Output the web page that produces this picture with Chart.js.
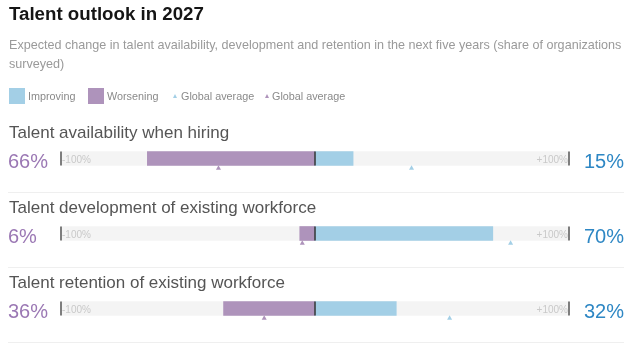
<!DOCTYPE html>
<html>
<head>
<meta charset="utf-8">
<script src="https://cdn.jsdelivr.net/npm/chart.js@4/dist/chart.umd.min.js"></script>
<style>
  html, body { margin: 0; padding: 0; background: #fff; }
  body { width: 640px; height: 350px; position: relative; overflow: hidden; font-family: "Liberation Sans", Arial, sans-serif; }
  #chart { position: absolute; left: 0; top: 0; }
  .abs { position: absolute; white-space: nowrap; }
  #title { left: 9px; top: 4px; font-size: 18.7px; line-height: 20px; font-weight: bold; color: #151515; }
  #subtitle { left: 9px; top: 36px; width: 628px; font-size: 12.6px; line-height: 19px; color: #9a9a9a; white-space: normal; }
  .leg-box { position: absolute; top: 88px; width: 16px; height: 16px; }
  .leg-txt { position: absolute; top: 89px; font-size: 10.8px; line-height: 14px; color: #8a8a8a; }
  .leg-tri { position: absolute; top: 94px; width: 0; height: 0; border-left: 2.5px solid transparent; border-right: 2.5px solid transparent; }
</style>
</head>
<body>
<canvas id="chart" width="640" height="350"></canvas>
<div id="title" class="abs">Talent outlook in 2027</div>
<div id="subtitle" class="abs">Expected change in talent availability, development and retention in the next five years (share of organizations surveyed)</div>
<div id="legend"></div>
<script>
// data
const rowLabels = [
    'Talent availability when hiring',
    'Talent development of existing workforce',
    'Talent retention of existing workforce'
];
const improving = [15, 70, 32];
const worsening = [66, 6, 36];
const avgImproving = [38, 77, 53];
const avgWorsening = [38, 5, 20];
const axisMin = -100;
const axisMax = 100;
const axisTickLabels = ['-100%', '+100%'];
const legendLabels = ['Improving', 'Worsening', 'Global average', 'Global average'];

const blue = '#a3cfe6';
const purple = '#ae93bb';
const blueText = '#2e87c4';
const purpleText = '#9b78b4';
const trackColor = '#f4f4f4';

// legend (html)
const legend = document.getElementById('legend');
function addLegend(kind, color, x, textX, text) {
    let mark = document.createElement('div');
    if (kind === 'box') {
        mark.className = 'leg-box';
        mark.style.background = color;
    } else {
        mark.className = 'leg-tri';
        mark.style.borderBottom = '4px solid ' + color;
    }
    mark.style.left = x + 'px';
    legend.appendChild(mark);
    let label = document.createElement('div');
    label.className = 'leg-txt';
    label.style.left = textX + 'px';
    label.textContent = text;
    legend.appendChild(label);
}
addLegend('box', blue, 9, 28, legendLabels[0]);
addLegend('box', purple, 88, 107, legendLabels[1]);
addLegend('tri', blue, 173, 181, legendLabels[2]);
addLegend('tri', purple, 265, 272, legendLabels[3]);

const rowPos = rowLabels.map((l, i) => i + 0.5);
const triOffset = 0.13;

// row titles, percentages, end ticks, center line
const rowDecor = {
    id: 'rowDecor',
    beforeDatasetsDraw(chart) {
        const ctx = chart.ctx;
        const y = chart.scales.y;
        ctx.save();
        rowPos.forEach((p, i) => {
            const yc = y.getPixelForValue(p);
            ctx.strokeStyle = '#efefef';
            ctx.lineWidth = 1;
            ctx.beginPath();
            ctx.moveTo(8, Math.round(yc + 33) + 0.5);
            ctx.lineTo(624, Math.round(yc + 33) + 0.5);
            ctx.stroke();

            ctx.fillStyle = '#555';
            ctx.font = '17px "Liberation Sans", Arial, sans-serif';
            ctx.textAlign = 'left';
            ctx.textBaseline = 'alphabetic';
            ctx.fillText(rowLabels[i], 9, yc - 21);
        });
        ctx.restore();
    },
    afterDatasetsDraw(chart) {
        const ctx = chart.ctx;
        const x = chart.scales.x;
        const y = chart.scales.y;
        const xl = x.getPixelForValue(axisMin);
        const xr = x.getPixelForValue(axisMax);
        const x0 = x.getPixelForValue(0);
        ctx.save();
        rowPos.forEach((p, i) => {
            const yc = y.getPixelForValue(p);

            ctx.font = '20px "Liberation Sans", Arial, sans-serif';
            ctx.textBaseline = 'alphabetic';
            ctx.fillStyle = purpleText;
            ctx.textAlign = 'left';
            ctx.fillText(worsening[i] + '%', 8, yc + 9);
            ctx.fillStyle = blueText;
            ctx.textAlign = 'right';
            ctx.fillText(improving[i] + '%', 624, yc + 9);

            ctx.font = '10px "Liberation Sans", Arial, sans-serif';
            ctx.fillStyle = '#c9c9c9';
            ctx.textAlign = 'left';
            ctx.fillText(axisTickLabels[0], xl + 1, yc + 4);
            ctx.textAlign = 'right';
            ctx.fillText(axisTickLabels[1], xr - 1, yc + 4);

            ctx.lineWidth = 1.5;
            ctx.strokeStyle = '#555';
            ctx.beginPath();
            ctx.moveTo(xl, yc - 7);
            ctx.lineTo(xl, yc + 7);
            ctx.moveTo(xr, yc - 7);
            ctx.lineTo(xr, yc + 7);
            ctx.stroke();

            ctx.strokeStyle = '#333';
            ctx.beginPath();
            ctx.moveTo(x0, yc - 7);
            ctx.lineTo(x0, yc + 7);
            ctx.stroke();
        });
        ctx.restore();
    }
};

const barDefaults = {
    type: 'bar',
    indexAxis: 'y',
    barThickness: 14,
    grouped: false,
    borderWidth: 0,
    borderSkipped: false
};

new Chart(document.getElementById('chart'), {
    type: 'bar',
    data: {
        datasets: [
            Object.assign({}, barDefaults, {
                label: 'track',
                data: rowPos.map(p => ({ x: [axisMin, axisMax], y: p })),
                backgroundColor: trackColor,
                order: 4
            }),
            Object.assign({}, barDefaults, {
                label: legendLabels[1],
                data: rowPos.map((p, i) => ({ x: [-worsening[i], 0], y: p })),
                backgroundColor: purple,
                order: 3
            }),
            Object.assign({}, barDefaults, {
                label: legendLabels[0],
                data: rowPos.map((p, i) => ({ x: [0, improving[i]], y: p })),
                backgroundColor: blue,
                order: 2
            }),
            {
                type: 'scatter',
                label: legendLabels[2],
                data: rowPos.map((p, i) => ({ x: avgImproving[i], y: p + triOffset })),
                pointStyle: 'triangle',
                radius: 2.9,
                backgroundColor: blue,
                borderWidth: 0,
                order: 1
            },
            {
                type: 'scatter',
                label: legendLabels[3],
                data: rowPos.map((p, i) => ({ x: -avgWorsening[i], y: p + triOffset })),
                pointStyle: 'triangle',
                radius: 2.9,
                backgroundColor: purple,
                borderWidth: 0,
                order: 1
            }
        ]
    },
    options: {
        responsive: false,
        animation: false,
        indexAxis: 'y',
        clip: false,
        layout: {
            padding: { left: 61, right: 71, top: 121, bottom: 3 }
        },
        scales: {
            x: { type: 'linear', min: axisMin, max: axisMax, display: false, offset: false },
            y: { type: 'linear', min: 0, max: 3, reverse: true, display: false, offset: false }
        },
        plugins: {
            legend: { display: false },
            tooltip: { enabled: false }
        },
        events: []
    },
    plugins: [rowDecor]
});
</script>
</body>
</html>
